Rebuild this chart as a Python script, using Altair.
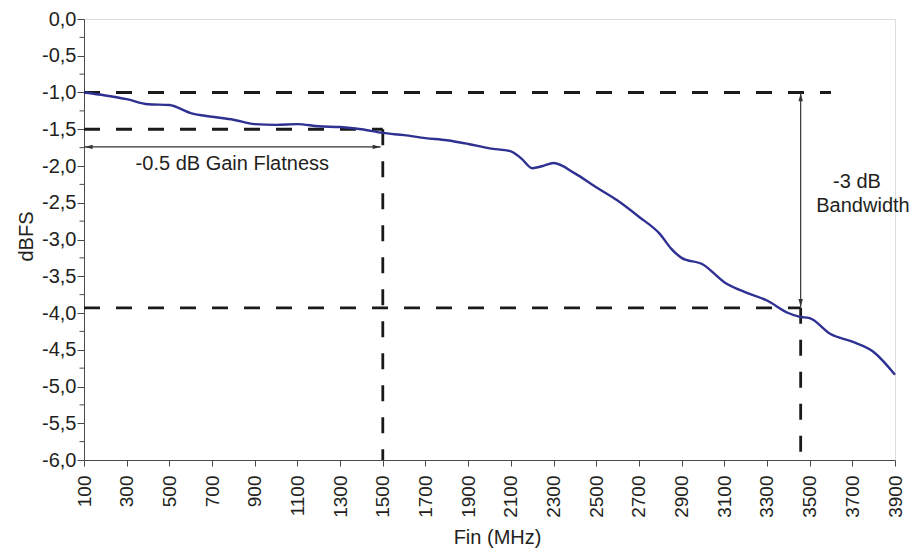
import altair as alt
import pandas as pd

# ---- data ----
freq_mhz = [100, 200, 300, 400, 500, 600, 700, 800, 900, 1000, 1100, 1200, 1300, 1400,
            1500, 1600, 1700, 1800, 1900, 2000, 2100, 2150, 2200, 2250, 2300, 2400, 2500,
            2600, 2700, 2800, 2850, 2900, 3000, 3100, 3200, 3300, 3400, 3450, 3500, 3600,
            3700, 3800, 3900]
level_dbfs = [-1.00, -1.04, -1.09, -1.16, -1.17, -1.28, -1.33, -1.37, -1.43, -1.44, -1.43,
              -1.46, -1.47, -1.50, -1.55, -1.58, -1.62, -1.65, -1.70, -1.76, -1.80, -1.90,
              -2.03, -2.00, -1.96, -2.10, -2.29, -2.47, -2.69, -2.93, -3.12, -3.25, -3.34,
              -3.58, -3.72, -3.83, -4.00, -4.05, -4.07, -4.29, -4.39, -4.53, -4.84]

x_tick_values = list(range(100, 3901, 200))
y_tick_values = [round(-6.0 + 0.5 * i, 2) for i in range(13)]
y_minor_values = [round(-5.75 + 0.5 * i, 2) for i in range(12)]

# dashed guide segments
guide_x = [100, 100, 100, 1500, 3458]
guide_x2 = [3600, 1500, 3458, 1500, 3458]
guide_y = [-1.0, -1.5, -3.93, -1.5, -3.93]
guide_y2 = [-1.0, -1.5, -3.93, -6.0, -6.0]

# double arrows
arrow_x = [103, 3458]
arrow_x2 = [1490, 3458]
arrow_y = [-1.74, -1.01]
arrow_y2 = [-1.74, -3.92]

head_x = [103, 1490, 3458, 3458]
head_y = [-1.74, -1.74, -1.01, -3.92]
head_dir = ["left", "right", "up", "down"]

note_text = ["-0.5 dB Gain Flatness", "-3 dB", "Bandwidth"]
note_x = [795, 3722, 3750]
note_y = [-1.97, -2.22, -2.54]

FONT = "Liberation Sans"
TXT = "#231f20"
AX = "#4a4a4a"

curve_df = pd.DataFrame({"f": freq_mhz, "v": level_dbfs})
guide_df = pd.DataFrame({"x": guide_x, "x2": guide_x2, "y": guide_y, "y2": guide_y2})
arrow_df = pd.DataFrame({"x": arrow_x, "x2": arrow_x2, "y": arrow_y, "y2": arrow_y2})
head_df = pd.DataFrame({"x": head_x, "y": head_y, "d": head_dir})
note_df = pd.DataFrame({"t": note_text, "x": note_x, "y": note_y})
minor_df = pd.DataFrame({"y": y_minor_values})

xs = alt.Scale(domain=[100, 3900], nice=False, zero=False)
ys = alt.Scale(domain=[-6, 0], nice=False, zero=False)

x_axis = alt.Axis(
    values=x_tick_values, format="d", labelAngle=270, labelAlign="right", labelBaseline="middle",
    labelFont=FONT, labelFontSize=19, labelColor=TXT, labelPadding=9,
    tickSize=6, tickColor=AX, domainColor=AX, grid=False, labelOverlap=False,
    titleFont=FONT, titleFontSize=20, titleFontWeight="normal", titleColor=TXT,
    titleX=413, titleY=83, titleBaseline="alphabetic", titleAlign="center",
)
y_axis = alt.Axis(
    values=y_tick_values,
    labelExpr="replace((datum.value < 0 ? '-' : '') + format(abs(datum.value), '.1f'), '.', ',')",
    labelFont=FONT, labelFontSize=20, labelColor=TXT, labelPadding=1,
    tickSize=7, tickColor=AX, domainColor=AX, grid=False, labelOverlap=False,
    titleFont=FONT, titleFontSize=20, titleFontWeight="normal", titleColor=TXT,
    titleAngle=270, titleX=-52, titleY=217, titleBaseline="alphabetic", titleAlign="center",
)

XT = "Fin (MHz)"
YT = "dBFS"

guides = alt.Chart(guide_df).mark_rule(color="#1a1a1a", strokeWidth=2.8, strokeDash=[16, 16]).encode(
    x=alt.X("x:Q", scale=xs, axis=x_axis, title=XT), x2="x2:Q",
    y=alt.Y("y:Q", scale=ys, axis=y_axis, title=YT), y2="y2:Q",
)

arrows = alt.Chart(arrow_df).mark_rule(color="#333333", strokeWidth=1.2).encode(
    x=alt.X("x:Q", scale=xs, axis=x_axis, title=XT), x2="x2:Q",
    y=alt.Y("y:Q", scale=ys, axis=y_axis, title=YT), y2="y2:Q",
)

heads = alt.Chart(head_df).mark_point(filled=True, opacity=1, color="#333333", size=64, strokeWidth=0).encode(
    x=alt.X("x:Q", scale=xs, axis=x_axis, title=XT),
    y=alt.Y("y:Q", scale=ys, axis=y_axis, title=YT),
    shape=alt.Shape("d:N", legend=None, scale=alt.Scale(
        domain=["left", "right", "up", "down"],
        range=["M0,0L2,-0.55L2,0.55Z", "M0,0L-2,-0.55L-2,0.55Z",
               "M0,0L-0.55,2L0.55,2Z", "M0,0L-0.55,-2L0.55,-2Z"])),
)

minor = alt.Chart(minor_df).mark_rule(color=AX, strokeWidth=1).encode(
    y=alt.Y("y:Q", scale=ys, axis=y_axis, title=YT),
    x=alt.value(-4.5), x2=alt.value(0),
)

curve = alt.Chart(curve_df).mark_line(color="#2e3192", strokeWidth=2.4, interpolate="monotone").encode(
    x=alt.X("f:Q", scale=xs, axis=x_axis, title=XT),
    y=alt.Y("v:Q", scale=ys, axis=y_axis, title=YT),
)

notes = alt.Chart(note_df).mark_text(font=FONT, fontSize=20, color=TXT, align="center", baseline="middle").encode(
    x=alt.X("x:Q", scale=xs, axis=x_axis, title=XT),
    y=alt.Y("y:Q", scale=ys, axis=y_axis, title=YT),
    text="t:N",
)

chart = alt.layer(guides, arrows, heads, minor, curve, notes).properties(
    width=811, height=441,
    autosize=alt.AutoSizeParams(type="none"),
    padding={"left": 76, "top": 11, "right": 15, "bottom": 92},
).configure_view(stroke=None).configure(background="white")

chart.save("out.html", embed_options={"renderer": "svg", "actions": False})
